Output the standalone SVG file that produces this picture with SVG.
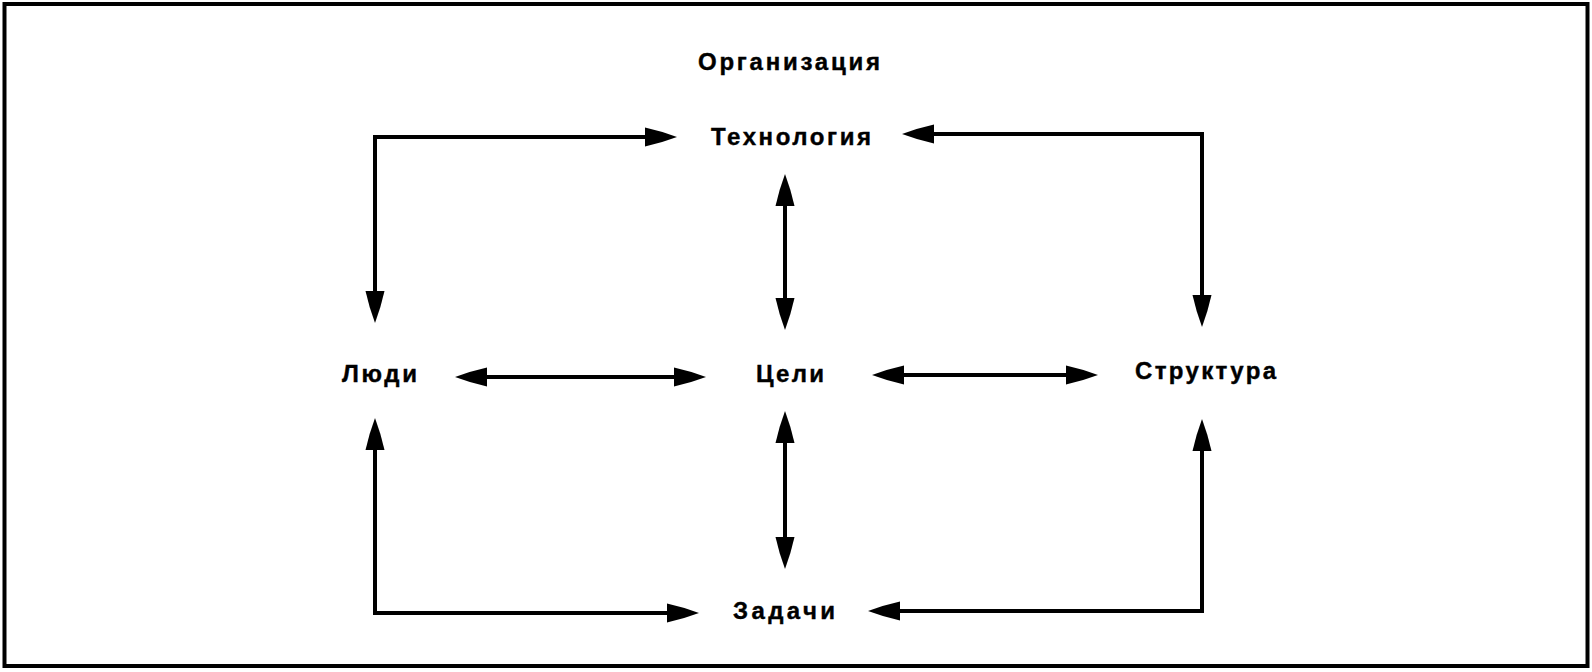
<svg xmlns="http://www.w3.org/2000/svg" width="1592" height="672" viewBox="0 0 1592 672">
<style>
.lbl{font-family:"Liberation Sans",Arial,sans-serif;font-weight:bold;font-size:24px;fill:#000;stroke:#000;stroke-width:0.4}
.con{fill:none;stroke:#000;stroke-width:4;marker-start:url(#ah);marker-end:url(#ah)}
</style>
<defs>
<marker id="ah" markerUnits="userSpaceOnUse" markerWidth="34" markerHeight="22" refX="0" refY="10" orient="auto-start-reverse" viewBox="0 0 34 20">
<path d="M0,0.5 Q16,4 32,10 Q16,16 0,19.5 Z" fill="#000"/>
</marker>
</defs>
<rect x="4.5" y="4" width="1583" height="662" fill="#fff" stroke="#000" stroke-width="4"/>
<g id="connectors">
<path class="con" d="M375,291 V137 H645"/>
<path class="con" d="M934,134 H1202 V295"/>
<path class="con" d="M785,206 V298"/>
<path class="con" d="M487,377 H674"/>
<path class="con" d="M904,375 H1066"/>
<path class="con" d="M785,443 V537"/>
<path class="con" d="M375,450 V613 H667"/>
<path class="con" d="M900,611 H1202 V451"/>
</g>
<g id="title"><text class="lbl" x="698" y="70" textLength="182" lengthAdjust="spacing">Организация</text></g>
<g id="tech"><text class="lbl" x="711" y="145" textLength="160" lengthAdjust="spacing">Технология</text></g>
<g id="people"><text class="lbl" x="342" y="382" textLength="75" lengthAdjust="spacing">Люди</text></g>
<g id="goals"><text class="lbl" x="756" y="382" textLength="68" lengthAdjust="spacing">Цели</text></g>
<g id="structure"><text class="lbl" x="1135" y="379" textLength="141" lengthAdjust="spacing">Структура</text></g>
<g id="tasks"><text class="lbl" x="733" y="619" textLength="102" lengthAdjust="spacing">Задачи</text></g>
</svg>
